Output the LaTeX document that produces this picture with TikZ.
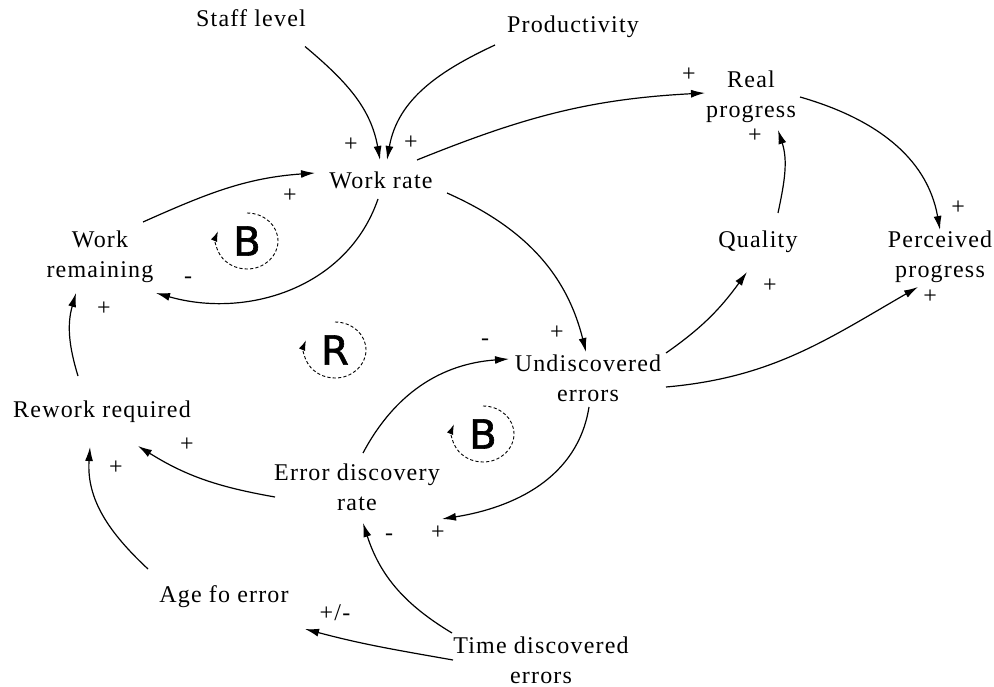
\documentclass[tikz,border=0pt]{standalone}
\usepackage{fontspec}
\setmainfont{Liberation Serif}[LetterSpace=5]
\newfontfamily\loopfont{DejaVu Sans}[FakeBold=1.5]
\usetikzlibrary{arrows.meta}

\begin{document}
\begin{tikzpicture}[x=0.5pt, y=0.5pt,
    var/.style={align=center, inner sep=0pt, font=\fontsize{12}{15}\selectfont},
    sign/.style={inner sep=0pt, font=\fontsize{12}{14}\selectfont},
    link/.style={line width=0.6pt, -{Latex[length=7pt,width=4pt]}},
    loopname/.style={inner sep=0pt, font=\loopfont\fontsize{20}{20}\selectfont},
    loopmark/.style={line width=0.45pt, dash pattern=on 1.6pt off 1.1pt, -{Latex[length=5pt,width=3.4pt]}}]
    \useasboundingbox (0,0) rectangle (994,686);

    % Variables
    \node[var] (staff) at (251,667.5) {Staff level};
    \node[var] (prod) at (573,659) {Productivity};
    \node[var] (wr) at (381,506) {Work rate};
    \node[var] (real) at (751,589) {Real\\progress};
    \node[var] (qual) at (758,444) {Quality};
    \node[var] (perc) at (940,429) {Perceived\\progress};
    \node[var] (wrem) at (100,429) {Work\\remaining};
    \node[var] (undis) at (588,308) {Undiscovered\\errors};
    \node[var] (rework) at (102,274) {Rework required};
    \node[var] (edr) at (357,199) {Error discovery\\rate};
    \node[var] (age) at (224,89) {Age fo error};
    \node[var] (tde) at (541,26) {Time discovered\\errors};

    % Links
    \draw[link] ([shift={(54,-28)}]staff.center) to[out=-40,in=100] ([shift={(-1,20)}]wr.center);
    \draw[link] ([shift={(-78,-18)}]prod.center) to[out=205,in=80] ([shift={(6,20)}]wr.center);
    \draw[link] ([shift={(36,20)}]wr.center) to[out=22,in=183] ([shift={(-46,4)}]real.center);
    \draw[link] ([shift={(49,0)}]real.center) to[out=-16,in=100] ([shift={(0,27)}]perc.center);
    \draw[link] ([shift={(20,29)}]qual.center) to[out=78,in=-72] ([shift={(27,-33)}]real.center);
    \draw[link] ([shift={(78,25)}]undis.center) to[out=35,in=-126] ([shift={(-11,-30)}]qual.center);
    \draw[link] ([shift={(78,-9)}]undis.center) to[out=5,in=210] ([shift={(-22,-30)}]perc.center);
    \draw[link] ([shift={(66,-13)}]wr.center) to[out=-24,in=104] ([shift={(-2,26)}]undis.center);
    \draw[link] ([shift={(43,35)}]wrem.center) to[out=24,in=184] ([shift={(-66,7)}]wr.center);
    \draw[link] ([shift={(-3,-19)}]wr.center) to[out=-109,in=-16] ([shift={(56,-36)}]wrem.center);
    \draw[link] ([shift={(-24,36)}]rework.center) to[out=107,in=-106] ([shift={(-24,-36)}]wrem.center);
    \draw[link] ([shift={(-82,-10)}]edr.center) to[out=170,in=-32] ([shift={(36,-34)}]rework.center);
    \draw[link] ([shift={(-76,28)}]age.center) to[out=137,in=-94] ([shift={(-12,-35)}]rework.center);
    \draw[link] ([shift={(6,34)}]edr.center) to[out=62,in=184] ([shift={(-79,19)}]undis.center);
    \draw[link] ([shift={(1,-29)}]undis.center) to[out=-99,in=9] ([shift={(85,-32)}]edr.center);
    \draw[link] ([shift={(-89,27)}]tde.center) to[out=149,in=-72] ([shift={(6,-36)}]edr.center);
    \draw[link] ([shift={(-88,0)}]tde.center) to[out=170,in=-15] ([shift={(81,-32)}]age.center);

    % Polarities
    \node[sign] (s1) at (351,541) {+};
    \node[sign] (s2) at (411,543) {+};
    \node[sign] (s3) at (290,490) {+};
    \node[sign] (s4) at (188,406) {-};
    \node[sign] (s5) at (104,377) {+};
    \node[sign] (s6) at (689,611) {+};
    \node[sign] (s7) at (755,550) {+};
    \node[sign] (s8) at (958,478) {+};
    \node[sign] (s9) at (770,400) {+};
    \node[sign] (s10) at (930,389) {+};
    \node[sign] (s11) at (557,353) {+};
    \node[sign] (s12) at (485,344) {-};
    \node[sign] (s13) at (187,241) {+};
    \node[sign] (s14) at (116,218) {+};
    \node[sign] (s15) at (438,153) {+};
    \node[sign] (s16) at (389,149) {-};
    \node[sign] (s17) at (335,73) {+/-};

    % Loops
    \node[loopname] (b1) at (247,445) {B};
    \draw[loopmark] (b1.center) ++(0,28) arc[start angle=90, end angle=-200, x radius=31, y radius=28];
    \node[loopname] (r1) at (335,336) {R};
    \draw[loopmark] (r1.center) ++(0,28) arc[start angle=90, end angle=-200, x radius=31, y radius=28];
    \node[loopname] (b2) at (483,252) {B};
    \draw[loopmark] (b2.center) ++(0,28) arc[start angle=90, end angle=-200, x radius=31, y radius=28];
\end{tikzpicture}
\end{document}
